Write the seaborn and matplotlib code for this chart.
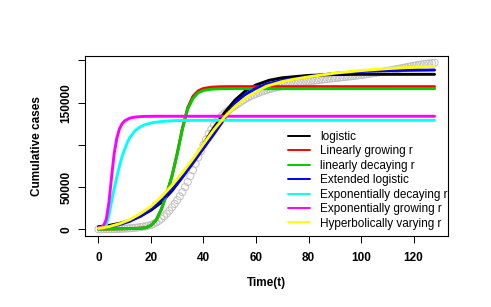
import numpy as np
import pandas as pd
import matplotlib
matplotlib.use("Agg")
import matplotlib.pyplot as plt
import seaborn as sns

# observed cumulative cases, one value per day (t = 0..128)
t_obs = list(range(0, 129))
cases_obs = [0, 20, 50, 100, 150, 220, 300, 400, 500, 650,
             800, 1000, 1200, 1500, 1800, 2200, 2600, 3100, 3600, 4300,
             5000, 6400, 8000, 10000, 12500, 15300, 18500, 22000, 26000, 30000,
             34500, 39000, 44000, 50000, 56000, 63000, 70000, 77500, 85000, 92500,
             100000, 106500, 113000, 118500, 123500, 127800, 131500, 134700, 137500, 139800,
             142000, 144300, 146500, 148500, 150500, 152500, 154500, 156200, 157800, 159200,
             160500, 161800, 163000, 164000, 165000, 165900, 166800, 167600, 168300, 169000,
             169700, 170400, 171000, 171600, 172200, 172800, 173300, 173800, 174300, 174800,
             175200, 175600, 176000, 176400, 176800, 177200, 177600, 178000, 178400, 178800,
             179100, 179500, 179800, 180200, 180500, 180900, 181200, 181600, 182000, 182400,
             182800, 183200, 183700, 184100, 184600, 185100, 185600, 186100, 186600, 187100,
             187700, 188200, 188800, 189400, 190000, 190600, 191200, 191800, 192400, 193000,
             193600, 194200, 194700, 195200, 195700, 196200, 196600, 197000, 197400]

# fitted models
t_logistic = [0, 4, 8, 12, 16, 20, 24, 28, 32, 36, 38, 40, 44, 48, 52, 56, 60, 65, 70, 80, 90, 100, 128]
y_logistic = [3000, 4500, 7000, 10500, 15500, 22500, 32000, 45500, 62000, 80500, 91000, 101000,
              120500, 138000, 153000, 164000, 171000, 176500, 179500, 182300, 183300, 183600, 183600]

t_lin_grow = [0, 5, 10, 15, 18, 20, 22, 24, 26, 28, 30, 32, 34, 36, 38, 40, 43, 46, 50, 60, 128]
y_lin_grow = [200, 400, 600, 1100, 1800, 4500, 11000, 24000, 42000, 63000, 90000, 120000,
              144000, 157500, 164000, 166800, 168300, 168800, 169000, 169000, 169000]

t_lin_decay = [0, 5, 10, 15, 18, 20, 22, 24, 26, 28, 30, 32, 34, 36, 38, 40, 43, 46, 50, 60, 128]
y_lin_decay = [200, 400, 600, 1100, 1800, 4500, 11000, 24000, 42000, 63000, 89000, 119000,
               142500, 155000, 161800, 164500, 166000, 166400, 166600, 166600, 166600]

t_ext = [0, 4, 8, 12, 16, 20, 24, 28, 32, 36, 40, 44, 48, 52, 56, 60, 64, 70, 74, 80, 90, 100, 110, 128]
y_ext = [1500, 3000, 5500, 9500, 15500, 24000, 34500, 47000, 62000, 78500, 96000, 113000,
         131000, 149500, 160000, 167000, 172000, 176500, 178000, 181000, 184700, 187000, 188000, 188700]

t_exp_decay = [0, 2, 3, 4, 5, 6, 7, 8, 9, 10, 11, 12, 14, 16, 18, 21, 25, 30, 40, 128]
y_exp_decay = [1500, 1800, 5000, 17000, 33000, 48000, 62000, 75000, 86000, 95000, 103000,
               109000, 117000, 121500, 124300, 126500, 128000, 128800, 129100, 129100]

t_exp_grow = [0, 1, 2, 3, 4, 5, 6, 7, 8, 9, 10, 12, 14, 17, 22, 128]
y_exp_grow = [1500, 2500, 4500, 12000, 32000, 62000, 90000, 108000, 119000, 125000,
              128500, 131800, 133000, 133700, 133900, 133900]

t_hyper = [0, 4, 8, 12, 16, 20, 24, 28, 32, 36, 40, 44, 48, 52, 56, 60, 64, 70, 74, 80, 90, 100, 110, 120, 128]
y_hyper = [1000, 3000, 6500, 11500, 18500, 27000, 38500, 52000, 67000, 83500, 101000, 118000,
           133000, 145500, 155500, 163000, 169500, 175000, 177500, 180500, 185000, 188000,
           190300, 192000, 193000]

labels = ["logistic", "Linearly growing r", "linearly decaying r", "Extended logistic",
          "Exponentially decaying r", "Exponentially growing r", "Hyperbolically varying r"]
colors = ["black", "#FF0000", "#00CD00", "#0000FF", "#00FFFF", "#FF00FF", "#FFFF00"]
series = [(t_logistic, y_logistic), (t_lin_grow, y_lin_grow), (t_lin_decay, y_lin_decay),
          (t_ext, y_ext), (t_exp_decay, y_exp_decay), (t_exp_grow, y_exp_grow), (t_hyper, y_hyper)]

sns.set_style("ticks")
plt.rcParams["font.family"] = ["Liberation Sans", "DejaVu Sans"]
plt.rcParams["text.color"] = "black"
plt.rcParams["axes.labelcolor"] = "black"

fig = plt.figure(figsize=(4.91, 3.07), dpi=100)
ax = fig.add_axes([85 / 491, 1 - 235.5 / 307, 363 / 491, 179.5 / 307])

obs = pd.DataFrame({"t": t_obs, "cases": cases_obs})
sns.scatterplot(data=obs, x="t", y="cases", ax=ax, marker="o", s=26,
                facecolors="none", edgecolor="#C0C0C0", linewidth=0.7, legend=False, zorder=2)

for (tt, yy), lab, col in zip(series, labels, colors):
    df = pd.DataFrame({"t": tt, "y": yy})
    sns.lineplot(data=df, x="t", y="y", ax=ax, color=col, linewidth=2.1,
                 label=lab, sort=False, estimator=None, zorder=3)

ax.set_xlim(-5.12, 133.12)
ax.set_ylim(-7400, 205300)
ax.set_xticks([0, 20, 40, 60, 80, 100, 120])
ax.set_yticks([0, 50000, 100000, 150000, 200000])
ax.set_yticklabels(["0", "50000", "", "150000", ""], rotation=90, va="center")
ax.tick_params(axis="both", length=5, width=0.7, color="black", labelcolor="black",
               labelsize=8.5, direction="out")
ax.tick_params(axis="x", pad=7)
ax.tick_params(axis="y", pad=4)
for lab in ax.get_xticklabels() + ax.get_yticklabels():
    lab.set_fontweight("bold")
for sp in ax.spines.values():
    sp.set_visible(True)
    sp.set_color("black")
    sp.set_linewidth(0.8)

ax.set_xlabel("Time(t)", fontsize=8.5, fontweight="bold")
ax.set_ylabel("Cumulative cases", fontsize=8.5, fontweight="bold")
ax.xaxis.set_label_coords(0.5, -(282.7 - 235.5) / 179.5)
ax.xaxis.label.set_va("center")
ax.yaxis.set_label_coords(-(85 - 36.7) / 363, 0.5)
ax.yaxis.label.set_va("center")

leg = ax.legend(loc="upper left", bbox_to_anchor=(288 / 491, 1 - 131 / 307),
                bbox_transform=fig.transFigure, frameon=False, fontsize=8.5,
                handlelength=1.86, handletextpad=0.85, labelspacing=0.205,
                borderpad=0, borderaxespad=0)
for ln in leg.get_lines():
    ln.set_linewidth(1.4)
for txt in leg.get_texts():
    txt.set_color("black")

fig.savefig("out.png", dpi=100)
